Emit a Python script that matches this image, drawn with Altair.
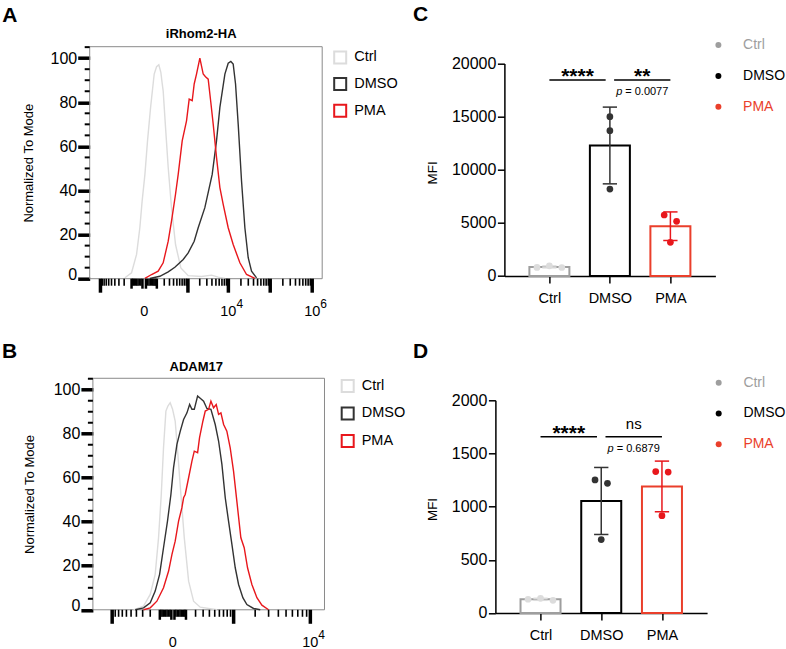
import json
import pandas as pd
import altair as alt

FONT = "Liberation Sans"

# ---------------- flow cytometry overlays: % of mode vs fluorescence ----------------
samples = ["Ctrl", "DMSO", "PMA"]
hist_colors = ["#dcdcdc", "#333333", "#e8171c"]

# iRhom2-HA staining
irhom_ctrl_fl = [-188, -100, -52, -27, -12, 4, 20, 42, 73, 97, 123, 149, 168, 183, 222, 273,
                 347, 457, 646, 1016, 2215, 3910, 5680, 8240]
irhom_ctrl_pct = [0.4, 2.7, 11, 23.1, 35.2, 47.3, 62.5, 77.7, 92.8, 96.1, 97, 93.6, 88.6, 85.2,
                  68.6, 50.4, 32.2, 15.5, 4.9, 1.4, 1.0, 1.6, 0.7, 0.1]
irhom_dmso_fl = [36, 136, 273, 437, 749, 1016, 1450, 1830, 2680, 4060, 5170, 6240, 8240, 9900,
                 11460, 13050, 14860, 17200, 20670, 24850, 29850, 35850, 47200]
irhom_dmso_pct = [0.1, 1.1, 3.1, 5.2, 8.7, 11.7, 17.0, 23.1, 32.2, 47.3, 62.5, 77.7, 92.8, 97.7,
                  98.5, 97.3, 88.3, 70.1, 44.3, 23.1, 9.5, 3.4, 0.4]
irhom_pma_fl = [4, 50, 115, 183, 273, 347, 457, 545, 703, 918, 1078, 1290, 1450, 1660, 2015,
                2440, 2780, 3240, 3760, 4295, 5170, 6240, 7500, 9900, 13050, 18870, 27250, 43050]
irhom_pma_pct = [0.1, 1.9, 3.4, 7.2, 17.0, 26.1, 38.3, 47.3, 62.5, 71.6, 81.4, 80.7, 88.3, 92.8,
                 100, 92.8, 91.6, 90.5, 79.9, 70.1, 55.0, 41.3, 33.7, 23.1, 15.5, 7.2, 1.9, 0.1]

# ADAM17 staining
adam_ctrl_fl = [-452, -287, -200, -145, -112, -87, -68, -49, -34, -18, -2, 15, 34, 57, 85, 125,
                177, 259, 546]
adam_ctrl_pct = [0, 1.7, 7.0, 16.1, 32.7, 52.4, 73.6, 90.3, 92.6, 94.1, 91.1, 85.8, 70.6, 52.4,
                 32.7, 13.0, 3.9, 1.2, 0]
adam_dmso_fl = [-421, -287, -200, -145, -102, -68, -37, -13, 4, 27, 52, 79, 109, 135, 159, 185,
                225, 259, 307, 358, 427, 510, 582, 660, 746, 839, 943, 1056, 1180, 1357, 1543,
                1902, 2334]
adam_dmso_pct = [0, 0.9, 3.2, 8.5, 16.1, 28.2, 40.3, 52.4, 64.5, 75.2, 81.2, 86.5, 89.5, 93.3,
                 91.1, 91.1, 97.1, 96.1, 94.8, 91.5, 91.1, 84.2, 76.7, 66.1, 50.9, 40.3, 29.7,
                 19.1, 11.5, 5.5, 2.4, 0.6, 0]
adam_pma_fl = [-287, -200, -128, -68, -29, -6, 15, 39, 65, 79, 93, 125, 159, 185, 225, 250, 297,
               332, 386, 427, 477, 531, 582, 636, 703, 790, 889, 997, 1141, 1272, 1417, 1576,
               1806, 2109, 2455, 2997]
adam_pma_pct = [0, 0.9, 3.9, 10.0, 17.6, 25.2, 31.2, 40.3, 46.4, 50.9, 52.4, 60.0, 67.6, 72.1,
                71.4, 78.2, 85.8, 90.3, 91.1, 94.8, 91.8, 93.3, 88.8, 89.5, 84.2, 81.2, 73.6,
                63.0, 46.4, 32.7, 28.2, 19.1, 11.5, 5.5, 2.1, 0]

# x-axis labels of the overlays: value, mantissa text, exponent text
irhom_label_values = [0, 1e4, 1e6]
irhom_label_base = ["0", "10", "10"]
irhom_label_exp = ["", "4", "6"]
adam_label_values = [0, 1e4]
adam_label_base = ["0", "10"]
adam_label_exp = ["", "4"]

# ---------------- MFI bar charts ----------------
groups = ["Ctrl", "DMSO", "PMA"]
bar_colors = ["#9e9e9e", "#000000", "#ea3f2b"]

ha_ctrl = [810, 960, 800]
ha_dmso = [14985, 13670, 8180]
ha_pma = [5740, 5140, 3170]
adam_mfi_ctrl = [119, 138, 129]
adam_mfi_dmso = [1251, 1219, 690]
adam_mfi_pma = [1330, 1325, 915]

ha_tests = [("Ctrl", "DMSO", "****", ""), ("DMSO", "PMA", "**", "0.0077")]
adam_tests = [("Ctrl", "DMSO", "****", ""), ("DMSO", "PMA", "ns", "0.6879")]

ONE = pd.DataFrame({"k": [0]})


def text_layer(text, x, y, **style):
    return alt.Chart(pd.DataFrame({"t": [text]})).mark_text(**style).encode(
        x=alt.value(x), y=alt.value(y), text="t:N")


def symlog_domain(zero_px, decade_px, const, lo_px, hi_px):
    """Data extent of a symlog axis whose zero and decade spacing sit at given pixels."""
    def inv(p):
        u = (p - zero_px) / decade_px
        return (1 if u >= 0 else -1) * const * (10 ** abs(u) - 1)
    return [inv(lo_px), inv(hi_px)]


def biex_ticks(lo, hi):
    major, mid, minor = [], [], []
    for k in range(1, 7):
        for m in range(1, 10):
            for sgn in (1, -1):
                v = sgn * m * 10 ** k
                if not lo <= v <= hi:
                    continue
                if m == 1 and k >= 3:
                    major.append(v)
                elif m == 1:
                    mid.append(v)
                else:
                    minor.append(v)
    return major, mid, minor


def hist_panel(curves, labels, title, letter, W, H, x0, zero_px, decade_px, const,
               title_xy, letter_xy, legend_xy, legend_gap, ytitle_x):
    df = pd.DataFrame([{"sample": s, "fl": f, "pct": p}
                       for s, (fl, pct) in zip(samples, curves) for f, p in zip(fl, pct)])
    dom = symlog_domain(zero_px, decade_px, const, x0, W)
    xs = alt.Scale(type="symlog", constant=const, domain=dom, range=[x0, W], nice=False, zero=False)
    ys = alt.Scale(domain=[0, 105.2], nice=False, zero=False)
    yaxis = alt.Axis(values=[0, 20, 40, 60, 80, 100], format="d", offset=-x0, domain=False,
                     grid=False, tickSize=12, tickWidth=3.5, tickColor="black",
                     labelFontSize=16, labelPadding=1, labelColor="black",
                     labelFlush=True, labelFlushOffset=3.5,
                     title="Normalized To Mode", titleFontSize=13, titleFontWeight="normal",
                     titleColor="black", titleX=ytitle_x, titleY=H / 2,
                     titleBaseline="middle", titleAlign="center")

    def X(f):
        return alt.X(f, scale=xs, axis=None)

    def Y(f):
        return alt.Y(f, scale=ys, axis=yaxis)

    layers = [alt.Chart(ONE).mark_rect(fillOpacity=0, stroke="#8a8a8a", strokeWidth=1).encode(
        x=alt.value(x0), x2=alt.value(W), y=alt.value(0), y2=alt.value(H))]

    layers.append(alt.Chart(df).mark_line(strokeWidth=1.4).encode(
        x=X("fl:Q"), y=Y("pct:Q"),
        color=alt.Color("sample:N", scale=alt.Scale(domain=samples, range=hist_colors),
                        legend=None)))

    # minor ticks on the % axis
    ymin = [v for v in range(5, 106, 5) if v % 20]
    layers.append(alt.Chart(pd.DataFrame({"v": ymin})).mark_rule(color="black", strokeWidth=2).encode(
        y=Y("v:Q"), x=alt.value(x0 - 5), x2=alt.value(x0)))

    # fluorescence axis ticks
    major, mid, minor = biex_ticks(*dom)
    for vals, length, width in ((major, 14, 3.5), (mid, 10, 2.5), (minor, 7, 1.6)):
        layers.append(alt.Chart(pd.DataFrame({"v": vals})).mark_rule(
            color="black", strokeWidth=width).encode(
            x=X("v:Q"), y=alt.value(H), y2=alt.value(H + length)))

    lab = pd.DataFrame({"v": labels[0], "base": labels[1], "exp": labels[2]})
    layers.append(alt.Chart(lab).mark_text(fontSize=14.5, align="center", baseline="alphabetic").encode(
        x=X("v:Q"), y=alt.value(H + 37), text="base:N"))
    layers.append(alt.Chart(lab).mark_text(fontSize=12, align="left", baseline="alphabetic",
                                           dx=8, dy=-8).encode(
        x=X("v:Q"), y=alt.value(H + 37), text="exp:N"))

    layers.append(text_layer(title, title_xy[0], title_xy[1], fontSize=13, fontWeight="bold",
                             align="center", baseline="alphabetic"))
    layers.append(text_layer(letter, letter_xy[0], letter_xy[1], fontSize=21, fontWeight="bold",
                             align="left", baseline="alphabetic"))

    lx, ly = legend_xy
    for i, (s, c) in enumerate(zip(samples, hist_colors)):
        yy = ly + i * legend_gap
        layers.append(alt.Chart(ONE).mark_square(size=144, filled=False, strokeWidth=2, color=c,
                                                 opacity=1).encode(x=alt.value(lx), y=alt.value(yy)))
        layers.append(text_layer(s, lx + 14, yy, fontSize=14.5, align="left", baseline="middle"))

    return alt.layer(*layers).properties(width=W, height=H)


def swarm_offsets(vals, tol, step=0.205):
    """Spread replicate dots sideways when their values would overlap."""
    order = sorted(range(len(vals)), key=lambda k: -vals[k])
    clusters = []
    for k in order:
        if clusters and vals[clusters[-1][-1]] - vals[k] < tol:
            clusters[-1].append(k)
        else:
            clusters.append([k])
    offs = [0.0] * len(vals)
    for cl in clusters:
        n = len(cl)
        slots = {1: [0], 2: [0, 1], 3: [1, 0, 2]}.get(n, list(range(n)))
        for k, s in zip(cl, slots):
            offs[k] = (s - (n - 1) / 2) * step
    return offs


def bar_panel(series, tests, ymax, ystep, letter, W, H, x0, ytop,
              letter_xy, legend_xy, legend_gap, ytitle_x, ytitle_y):
    rows = []
    for i, (g, vals) in enumerate(zip(groups, series)):
        for v, o in zip(vals, swarm_offsets(vals, 0.04 * ymax)):
            rows.append({"group": g, "idx": i, "value": v, "pos": i + o})
    df = pd.DataFrame(rows)

    xs = alt.Scale(domain=[-0.661, 2.661], range=[x0, W], nice=False, zero=False)
    ys = alt.Scale(domain=[0, ymax], range=[H, ytop], nice=False, zero=False)
    xaxis = alt.Axis(values=[0, 1, 2], labelExpr=json.dumps(groups) + "[datum.value]", title=None,
                     grid=False, domainColor="black", domainWidth=1.5, tickColor="black",
                     tickWidth=1.5, tickSize=7, labelFontSize=14.5, labelPadding=8.4,
                     labelColor="black")
    yaxis = alt.Axis(values=list(range(0, ymax + 1, ystep)), format="d", offset=-x0, grid=False,
                     domainColor="black", domainWidth=1.5, tickColor="black", tickWidth=1.5,
                     tickSize=7, labelFontSize=16, labelPadding=1.5, labelColor="black",
                     title="MFI", titleFontSize=13.5, titleFontWeight="normal",
                     titleColor="black", titleX=ytitle_x, titleY=ytitle_y,
                     titleBaseline="middle", titleAlign="center")

    def X(f):
        return alt.X(f, scale=xs, axis=xaxis)

    def Y(f):
        return alt.Y(f, scale=ys, axis=yaxis)

    gscale = alt.Scale(domain=groups, range=bar_colors)
    col = alt.Color("group:N", scale=gscale, legend=None)

    summary = alt.Chart(df).transform_aggregate(
        mean="mean(value)", sd="stdev(value)", groupby=["group", "idx"]
    ).transform_calculate(
        lo="datum.mean - datum.sd", hi="datum.mean + datum.sd",
        cl="datum.idx - 0.118", cr="datum.idx + 0.118")

    layers = [
        summary.mark_bar(orient="vertical", size=40, fill="white", strokeWidth=2).encode(
            x=X("idx:Q"), y=Y("mean:Q"),
            stroke=alt.Stroke("group:N", scale=gscale, legend=None)),
        summary.mark_rule(strokeWidth=1.5).encode(x=X("idx:Q"), y=Y("lo:Q"), y2="hi:Q", color=col),
        summary.mark_rule(strokeWidth=1.5).encode(x=X("cl:Q"), x2="cr:Q", y=Y("hi:Q"), color=col),
        summary.mark_rule(strokeWidth=1.5).encode(x=X("cl:Q"), x2="cr:Q", y=Y("lo:Q"), color=col),
        alt.Chart(df).mark_circle(size=45, opacity=1).encode(x=X("pos:Q"), y=Y("value:Q"), color=col),
    ]

    # significance brackets above the tallest error bar
    agg = df.groupby("group")["value"].agg(["mean", "std"])
    ybr = float((agg["mean"] + agg["std"]).max()) * 1.16
    ends = [g for t in tests for g in t[:2]]
    shared = {g for g in ends if ends.count(g) > 1}
    brows = []
    for a, b, lab, p in tests:
        x1 = groups.index(a) + (0.07 if a in shared else 0)
        x2 = groups.index(b) - (0.07 if b in shared else 0)
        brows.append({"x1": x1, "x2": x2, "xm": (x1 + x2) / 2, "y": ybr, "label": lab,
                      "kind": "star" if set(lab) == {"*"} else "word",
                      "p": p, "rest": ("= " + p) if p else ""})
    bdf = pd.DataFrame(brows)
    layers.append(alt.Chart(bdf).mark_rule(color="black", strokeWidth=1.5).encode(
        x=X("x1:Q"), x2="x2:Q", y=Y("y:Q")))
    layers.append(alt.Chart(bdf).transform_filter("datum.kind == 'star'").mark_text(
        fontSize=21, fontWeight="bold", align="center", baseline="alphabetic", dy=3).encode(
        x=X("xm:Q"), y=Y("y:Q"), text="label:N"))
    layers.append(alt.Chart(bdf).transform_filter("datum.kind == 'word'").mark_text(
        fontSize=15, align="center", baseline="alphabetic", dy=-7.7).encode(
        x=X("xm:Q"), y=Y("y:Q"), text="label:N"))
    layers.append(alt.Chart(bdf).transform_filter("datum.p != ''").mark_text(
        fontSize=11, fontStyle="italic", align="right", baseline="alphabetic", dx=-20, dy=15).encode(
        x=X("xm:Q"), y=Y("y:Q"), text=alt.value("p")))
    layers.append(alt.Chart(bdf).transform_filter("datum.p != ''").mark_text(
        fontSize=11, align="left", baseline="alphabetic", dx=-17, dy=15).encode(
        x=X("xm:Q"), y=Y("y:Q"), text="rest:N"))

    layers.append(text_layer(letter, letter_xy[0], letter_xy[1], fontSize=21, fontWeight="bold",
                             align="left", baseline="alphabetic"))

    lx, ly = legend_xy
    for i, (g, c) in enumerate(zip(groups, bar_colors)):
        yy = ly + i * legend_gap
        layers.append(alt.Chart(ONE).mark_circle(size=36, color=c, opacity=1).encode(
            x=alt.value(lx), y=alt.value(yy)))
        layers.append(text_layer(g, lx + 24.7, yy, fontSize=14, align="left", baseline="middle",
                                 color=c))

    return alt.layer(*layers).properties(width=W, height=H)


panel_a = hist_panel(
    [(irhom_ctrl_fl, irhom_ctrl_pct), (irhom_dmso_fl, irhom_dmso_pct), (irhom_pma_fl, irhom_pma_pct)],
    (irhom_label_values, irhom_label_base, irhom_label_exp),
    "iRhom2-HA", "A", W=232.5, H=232, x0=0, zero_px=54.5, decade_px=42, const=100,
    title_xy=(111.5, -8.5), letter_xy=(-87.5, -24.3), legend_xy=(250.5, 10.7), legend_gap=26.7,
    ytitle_x=-61.5)

panel_b = hist_panel(
    [(adam_ctrl_fl, adam_ctrl_pct), (adam_dmso_fl, adam_dmso_pct), (adam_pma_fl, adam_pma_pct)],
    (adam_label_values, adam_label_base, adam_label_exp),
    "ADAM17", "B", W=234.8, H=231.5, x0=3.2, zero_px=83.2, decade_px=83.4, const=230,
    title_xy=(106.5, -7.3), letter_xy=(-87.8, -20.0), legend_xy=(258, 7.7), legend_gap=27.5,
    ytitle_x=-63.7)

panel_c = bar_panel(
    [ha_ctrl, ha_dmso, ha_pma], ha_tests, 20000, 5000, "C", W=220, H=229.3, x0=9, ytop=16.7,
    letter_xy=(-82.3, -25.3), legend_xy=(223, -1.7), legend_gap=30.9,
    ytitle_x=-72.3, ytitle_y=125.7)

panel_d = bar_panel(
    [adam_mfi_ctrl, adam_mfi_dmso, adam_mfi_pma], adam_tests, 2000, 500, "D", W=211.7, H=234.7,
    x0=0, ytop=22, letter_xy=(-82.3, -20.6), legend_xy=(223.3, 4.4), legend_gap=30.8,
    ytitle_x=-63.3, ytitle_y=130.7)

chart = alt.concat(
    panel_a, panel_c, panel_b, panel_d, columns=2,
    spacing={"row": 96.6, "column": 170.7}, bounds="flush", align="all"
).properties(
    padding={"left": 1.7, "top": 3.7, "right": 0, "bottom": 0}
).configure(font=FONT).configure_view(stroke=None)

chart.save("out.html", embed_options={"renderer": "svg", "actions": False})
